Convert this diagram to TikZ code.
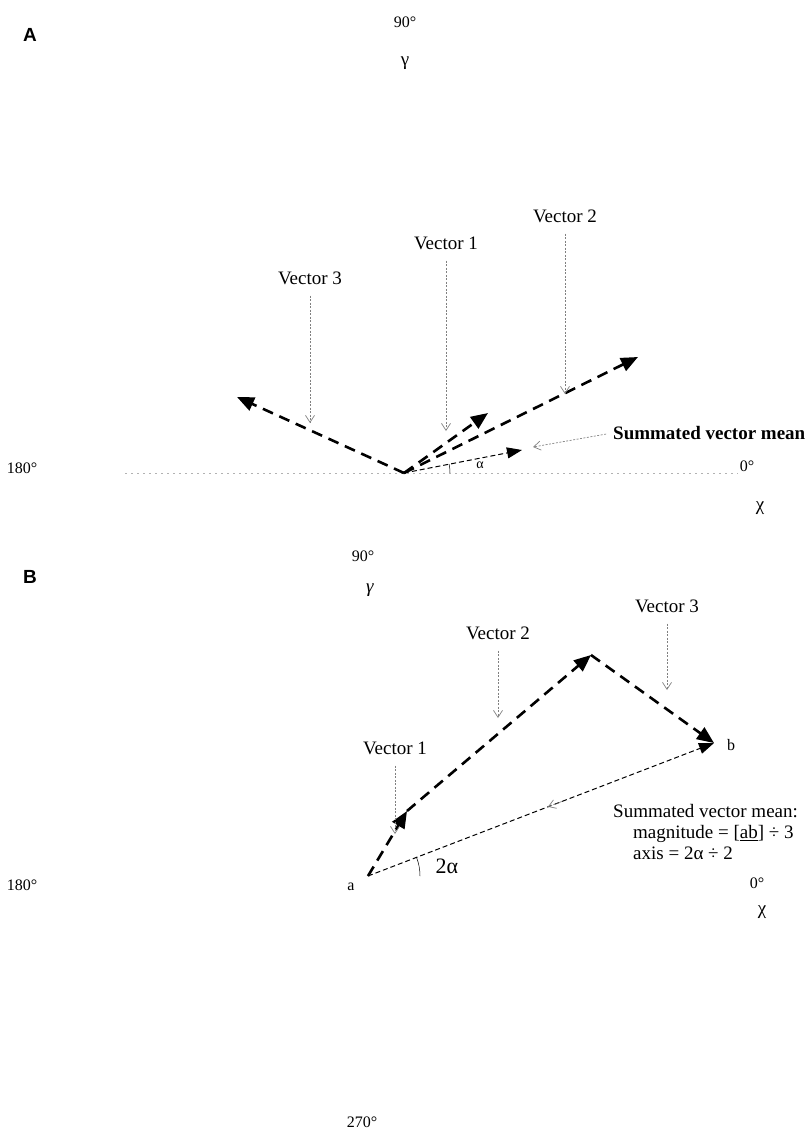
\documentclass[tikz,border=0pt]{standalone}
\usepackage{fontspec}
\setmainfont{Liberation Serif}
\newfontfamily\panelfont{Liberation Sans}
\usepackage{tikz}
\usetikzlibrary{arrows.meta, calc}

\begin{document}
\begin{tikzpicture}[x=1pt, y=-1pt,
        lbl/.style = {font=\fontsize{19}{21}\selectfont, inner sep=1pt},
        deg/.style = {font=\fontsize{16}{18}\selectfont, inner sep=1pt},
        panel/.style = {font=\panelfont\bfseries\fontsize{19}{21}\selectfont, inner sep=1pt},
        vec/.style = {line width=2.6pt, dash pattern=on 11pt off 7pt, -{Triangle[length=17pt,width=14pt]}},
        sumvec/.style = {line width=1pt, dash pattern=on 5pt off 3pt, -{Triangle[length=15pt,width=11pt]}},
        ptr/.style = {gray, line width=0.7pt, dash pattern=on 2pt off 1.5pt, -{Straight Barb[length=7pt,width=9pt]}, shorten <=10pt},
        axisline/.style = {gray!60, line width=0.7pt, dash pattern=on 2pt off 4pt}]
        \useasboundingbox (0,0) rectangle (810,1133);

        \node[panel] at (30,35) (pA) {A};
        \node[deg] at (405,22) (a90) {90°};
        \node[lbl] at (405,63) (agam) {γ};
        \node[deg] at (22,468) (a180) {180°};
        \node[deg] at (747,466) (a0) {0°};
        \node[lbl] at (760,508) (achi) {χ};

        \coordinate (O) at (404,473);
        \coordinate (ax1) at (125,473);
        \coordinate (ax2) at (738,473);
        \coordinate (u1) at (488,413);
        \coordinate (u2) at (638,357);
        \coordinate (u3) at (237,397);
        \coordinate (us) at (522,450);

        \node[lbl] at (310,278) (lu3) {Vector 3};
        \node[lbl] at (446,243) (lu1) {Vector 1};
        \node[lbl] at (565,216) (lu2) {Vector 2};
        \node[lbl, font=\bfseries\fontsize{19}{21}\selectfont, anchor=west] at (612,433) (lus) {Summated vector mean};
        \node[font=\fontsize{14}{16}\selectfont] at (480,465) (alf) {α};

        \coordinate (q3) at (lu3.south |- 0,423);
        \coordinate (q1) at (lu1.south |- 0,431);
        \coordinate (q2) at (lu2.south |- 0,394);
        \coordinate (qs) at (533,447);

        \draw[axisline] (ax1) -- (ax2);
        \draw[vec] (O) -- (u3);
        \draw[vec] (O) -- (u1);
        \draw[vec] (O) -- (u2);
        \draw[sumvec] (O) -- (us);
        \draw[line width=0.5pt] (O) ++(46,0) arc[start angle=0, end angle=-11, radius=46];
        \draw[ptr] (lu3.south) -- (q3);
        \draw[ptr] (lu1.south) -- (q1);
        \draw[ptr] (lu2.south) -- (q2);
        \draw[ptr, shorten <=6pt] (lus.west) -- (qs);

        \node[panel] at (30,577) (pB) {B};
        \node[deg] at (363,556) (b90) {90°};
        \node[lbl] at (370,590) (bgam) {\textit{γ}};
        \node[deg] at (22,885) (b180) {180°};
        \node[deg] at (757,883) (b0) {0°};
        \node[lbl] at (762,912) (bchi) {χ};
        \node[deg] at (362,1122) (b270) {270°};

        \coordinate (a) at (368,876);
        \coordinate (b) at (714,743);
        \coordinate (w1) at (407,811);
        \coordinate (w2) at (591,655);

        \node[deg] at (351,887) (alab) {a};
        \node[deg] at (731,745) (blab) {b};
        \node[font=\fontsize{22}{24}\selectfont] at (447,866) (twoalf) {2α};
        \node[lbl] at (395,748) (lw1) {Vector 1};
        \node[lbl] at (498,633) (lw2) {Vector 2};
        \node[lbl] at (667,606) (lw3) {Vector 3};
        \node[lbl, anchor=north west, align=left] at (612,803) (sumtxt)
                {Summated vector mean:\\
                \hspace*{20pt}magnitude = [\underline{ab}] ÷ 3\\
                \hspace*{20pt}axis = 2α ÷ 2};

        \coordinate (r1) at (lw1.south |- 0,834);
        \coordinate (r2) at (lw2.south |- 0,718);
        \coordinate (r3) at (lw3.south |- 0,690);

        \draw[vec] (a) -- (w1);
        \draw[vec] (w1) -- (w2);
        \draw[vec] (w2) -- (b);
        \draw[sumvec] (a) -- (b);
        \draw[line width=0.5pt] (a) ++(52,0) arc[start angle=0, end angle=-21, radius=52];
        \draw[ptr] (lw1.south) -- (r1);
        \draw[ptr] (lw2.south) -- (r2);
        \draw[ptr] (lw3.south) -- (r3);
        \draw[ptr, shorten <=0pt] ($(a)!0.56!(b)$) -- ($(a)!0.52!(b)$);
\end{tikzpicture}
\end{document}
